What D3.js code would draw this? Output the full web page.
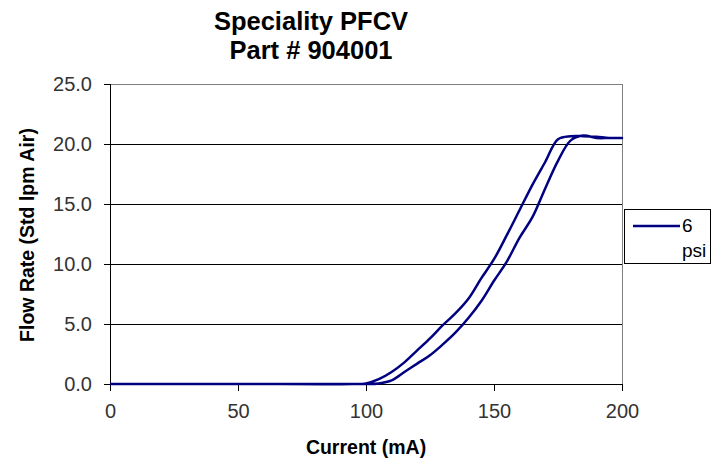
<!DOCTYPE html>
<html>
  <head>
    <meta charset="UTF-8" />
    <style>
      body { margin: 0; background: #fff; }
      svg { display: block; font-family: "Liberation Sans", Arial, sans-serif; }
    </style>
  </head>
  <body>
    <svg></svg>
    <script src="https://d3js.org/d3.v7.min.js"></script>
    <script>
      // values
      let current = [0, 50, 95, 100, 105, 110, 115, 120, 125, 130, 135, 140, 145, 150, 155, 160, 165, 170, 175, 180, 185, 190, 195, 200];
      let flowUp = [0, 0, 0, 0, 0.05, 0.3, 1.0, 1.7, 2.4, 3.3, 4.3, 5.5, 6.9, 8.6, 10.2, 12.2, 13.9, 16.3, 18.6, 20.3, 20.7, 20.5, 20.5, 20.5];
      let flowDown = [0, 0, 0, 0.05, 0.4, 1.0, 1.8, 2.8, 3.8, 4.9, 5.9, 7.1, 8.8, 10.4, 12.4, 14.5, 16.6, 18.5, 20.4, 20.65, 20.65, 20.6, 20.5, 20.5];
      let xTicks = [0, 50, 100, 150, 200];
      let yTicks = [0, 5, 10, 15, 20, 25];
      let seriesName = "6 psi";

      let width = 720,
        height = 462;

      let svg = d3.select("svg").attr("width", width).attr("height", height);

      let x = d3.scaleLinear().domain([0, 200]).range([110, 622]);
      let y = d3.scaleLinear().domain([0, 25]).range([384, 84]);

      // title
      let title = svg.append("text")
        .attr("text-anchor", "middle")
        .attr("font-weight", "bold")
        .attr("font-size", 25.5)
        .attr("fill", "#000");
      title.append("tspan").attr("x", 311).attr("y", 30).text("Speciality PFCV");
      title.append("tspan").attr("x", 311).attr("y", 59).text("Part # 904001");

      // gridlines
      svg.append("g")
        .attr("shape-rendering", "crispEdges")
        .selectAll("line")
        .data(yTicks.filter((d) => d > 0 && d < 25))
        .join("line")
        .attr("x1", x(0)).attr("x2", x(200))
        .attr("y1", (d) => y(d) + 0.5).attr("y2", (d) => y(d) + 0.5)
        .attr("stroke", "#000")
        .attr("stroke-width", 1);

      // plot border top/right
      svg.append("path")
        .attr("d", `M${x(0)},${y(25) + 0.5}H${x(200) + 0.5}V${y(0)}`)
        .attr("fill", "none")
        .attr("shape-rendering", "crispEdges")
        .attr("stroke", "#808080")
        .attr("stroke-width", 1);

      // axes
      let yAxis = svg.append("g")
        .attr("transform", `translate(${x(0)},0)`)
        .call(d3.axisLeft(y).tickValues(yTicks).tickFormat(d3.format(".1f")).tickSize(6).tickPadding(12));
      let xAxis = svg.append("g")
        .attr("transform", `translate(0,${y(0)})`)
        .call(d3.axisBottom(x).tickValues(xTicks).tickSize(7).tickPadding(13));

      [xAxis, yAxis].forEach((a) => {
        a.attr("shape-rendering", "crispEdges");
        a.select(".domain").attr("stroke", "#000");
        a.selectAll(".tick line").attr("stroke", "#000");
        a.selectAll(".tick text")
          .attr("font-size", 20)
          .attr("font-family", "Liberation Sans, Arial, sans-serif")
          .attr("fill", "#333");
      });

      // axis titles
      svg.append("text")
        .attr("x", 366).attr("y", 454)
        .attr("text-anchor", "middle")
        .attr("font-weight", "bold")
        .attr("font-size", 19.5)
        .text("Current (mA)");

      svg.append("text")
        .attr("transform", "translate(34,235) rotate(-90)")
        .attr("text-anchor", "middle")
        .attr("font-weight", "bold")
        .attr("font-size", 19.5)
        .text("Flow Rate (Std lpm Air)");

      // series: up path then down path
      let points = current.map((c, i) => [c, flowUp[i]]);
      for (let i = current.length - 2; i >= 0; i--) points.push([current[i], flowDown[i]]);

      let line = d3.line()
        .x((d) => x(d[0]))
        .y((d) => y(d[1]))
        .curve(d3.curveCatmullRom.alpha(0.5));

      svg.append("path")
        .datum(points)
        .attr("d", line)
        .attr("fill", "none")
        .attr("stroke", "#000080")
        .attr("stroke-width", 2.5)
        .attr("stroke-linejoin", "round");

      // legend
      let legend = svg.append("g");
      legend.append("rect")
        .attr("x", 624.5).attr("y", 209.5)
        .attr("width", 86).attr("height", 54)
        .attr("fill", "#fff")
        .attr("shape-rendering", "crispEdges")
        .attr("stroke", "#000")
        .attr("stroke-width", 1);
      legend.append("line")
        .attr("x1", 633).attr("x2", 680)
        .attr("y1", 226).attr("y2", 226)
        .attr("stroke", "#000080")
        .attr("stroke-width", 2.5);
      let parts = seriesName.split(" ");
      legend.append("text")
        .attr("x", 682).attr("y", 232)
        .attr("font-size", 19)
        .attr("fill", "#000")
        .text(parts[0]);
      legend.append("text")
        .attr("x", 682).attr("y", 257)
        .attr("font-size", 19)
        .attr("fill", "#000")
        .text(parts[1]);
    </script>
  </body>
</html>
